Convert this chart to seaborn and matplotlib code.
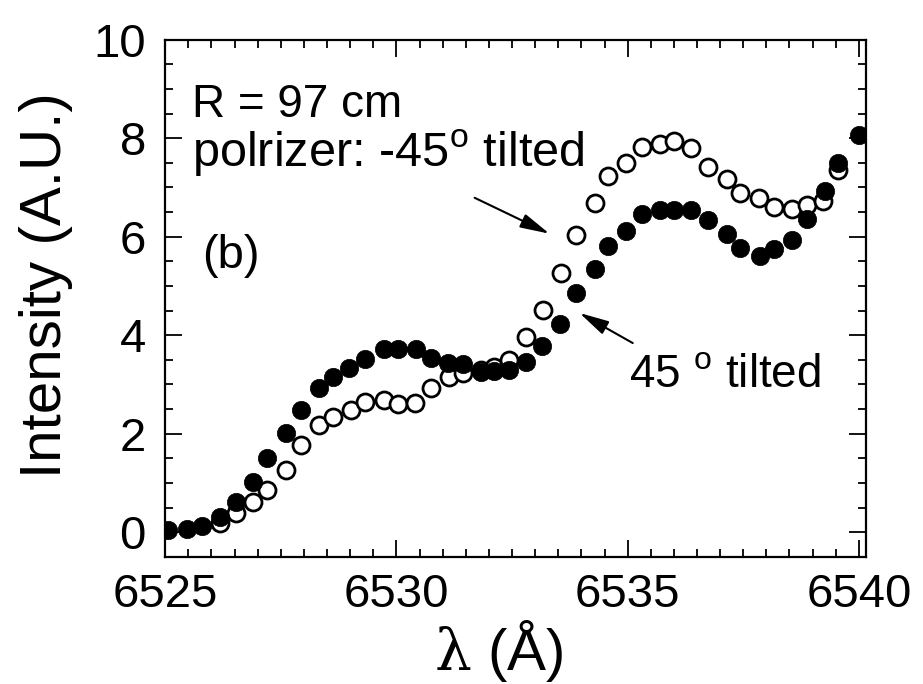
import matplotlib
matplotlib.use("Agg")
import matplotlib.pyplot as plt
import seaborn as sns
import pandas as pd
from matplotlib.ticker import MultipleLocator

# === Data ===
filled_x = [6525.05, 6525.48, 6525.79, 6526.18, 6526.52, 6526.90, 6527.21, 6527.61, 6527.94,
            6528.33, 6528.62, 6528.98, 6529.31, 6529.74, 6530.03, 6530.43, 6530.75, 6531.11,
            6531.44, 6531.82, 6532.12, 6532.43, 6532.81, 6533.15, 6533.54, 6533.89, 6534.29,
            6534.57, 6534.97, 6535.32, 6535.69, 6536.00, 6536.38, 6536.74, 6537.14, 6537.44,
            6537.86, 6538.16, 6538.56, 6538.87, 6539.26, 6539.55, 6540.00]
filled_y = [0.04, 0.07, 0.12, 0.31, 0.62, 1.02, 1.50, 2.01, 2.48,
            2.92, 3.16, 3.33, 3.51, 3.71, 3.71, 3.71, 3.53, 3.43,
            3.41, 3.26, 3.28, 3.29, 3.46, 3.77, 4.23, 4.85, 5.34,
            5.81, 6.12, 6.46, 6.54, 6.54, 6.54, 6.34, 6.06, 5.77,
            5.60, 5.75, 5.93, 6.36, 6.93, 7.49, 8.07]

open_x = [6526.18, 6526.52, 6526.90, 6527.21, 6527.61, 6527.94, 6528.33, 6528.62, 6529.02,
          6529.33, 6529.74, 6530.03, 6530.40, 6530.74, 6531.13, 6531.44, 6531.82, 6532.12,
          6532.43, 6532.81, 6533.17, 6533.56, 6533.89, 6534.29, 6534.57, 6534.97, 6535.32,
          6535.69, 6536.00, 6536.38, 6536.74, 6537.14, 6537.44, 6537.84, 6538.16, 6538.56,
          6538.87, 6539.23, 6539.55]
open_y = [0.18, 0.39, 0.62, 0.85, 1.26, 1.77, 2.17, 2.34, 2.48,
          2.64, 2.68, 2.60, 2.62, 2.92, 3.16, 3.23, 3.30, 3.35,
          3.50, 3.97, 4.51, 5.26, 6.04, 6.69, 7.24, 7.49, 7.83,
          7.89, 7.95, 7.80, 7.42, 7.17, 6.88, 6.78, 6.61, 6.57,
          6.65, 6.73, 7.36]

x_ticks = [6525, 6530, 6535, 6540]
y_ticks = [0, 2, 4, 6, 8, 10]

# === Style ===
sns.set_theme(style="ticks")
plt.rcParams["font.family"] = ["Liberation Sans", "DejaVu Sans"]
plt.rcParams["text.color"] = "black"
plt.rcParams["axes.labelcolor"] = "black"
plt.rcParams["mathtext.fontset"] = "custom"
plt.rcParams["mathtext.rm"] = "Liberation Sans"

fig = plt.figure(figsize=(9.23, 6.84), dpi=100)
ax = fig.add_axes([0.179, 0.186, 0.759, 0.756])

minus45 = pd.DataFrame({"wl": open_x, "I": open_y})
plus45 = pd.DataFrame({"wl": filled_x, "I": filled_y})

sns.scatterplot(data=minus45, x="wl", y="I", ax=ax, marker="o", s=150,
                facecolor="white", edgecolor="black", linewidth=2.0, zorder=3)
sns.scatterplot(data=plus45, x="wl", y="I", ax=ax, marker="o", s=175,
                color="black", edgecolor="black", linewidth=0.5, zorder=4)

ax.set_xlim(6525, 6540.15)
ax.set_ylim(-0.5, 10)
ax.set_xticks(x_ticks)
ax.set_yticks(y_ticks)
ax.xaxis.set_minor_locator(MultipleLocator(0.5))
ax.yaxis.set_minor_locator(MultipleLocator(0.5))
ax.tick_params(which="both", direction="in", top=True, right=True, color="black", width=1.3)
ax.tick_params(which="major", length=12, labelsize=34, labelcolor="black")
ax.tick_params(which="minor", length=6)
ax.tick_params(axis="x", which="major", pad=12)
ax.tick_params(axis="y", which="major", pad=14)
for sp in ax.spines.values():
    sp.set_linewidth(1.6)
    sp.set_color("black")

ax.set_xlabel(r"$\mathrm{\lambda}$ (Å)", fontsize=42, math_fontfamily="dejavuserif")
ax.xaxis.set_label_coords(0.476, -0.118)
ax.xaxis.label.set_verticalalignment("top")
ax.set_ylabel("Intensity (A.U.)", fontsize=42)
ax.yaxis.set_label_coords(-0.131, 0.526)

# === Annotations ===
ax.text(6525.58, 8.43, "R = 97 cm", fontsize=33, va="baseline")
ax.text(6525.58, 7.42, r"polrizer: -45$^{\rm o}$ tilted", fontsize=35, va="baseline")
ax.text(6525.80, 5.37, "(b)", fontsize=34, va="baseline")
ax.text(6535.04, 2.95, r"45 $^{\rm o}$ tilted", fontsize=33, va="baseline")

arrow = dict(arrowstyle="-|>,head_length=0.9,head_width=0.22", color="black", lw=1.5,
             shrinkA=0, shrinkB=0, mutation_scale=20)
ax.annotate("", xy=(6533.31, 6.06), xytext=(6531.69, 6.79), arrowprops=arrow)
ax.annotate("", xy=(6533.96, 4.45), xytext=(6535.11, 3.84), arrowprops=arrow)

fig.savefig("out.png", dpi=100)
